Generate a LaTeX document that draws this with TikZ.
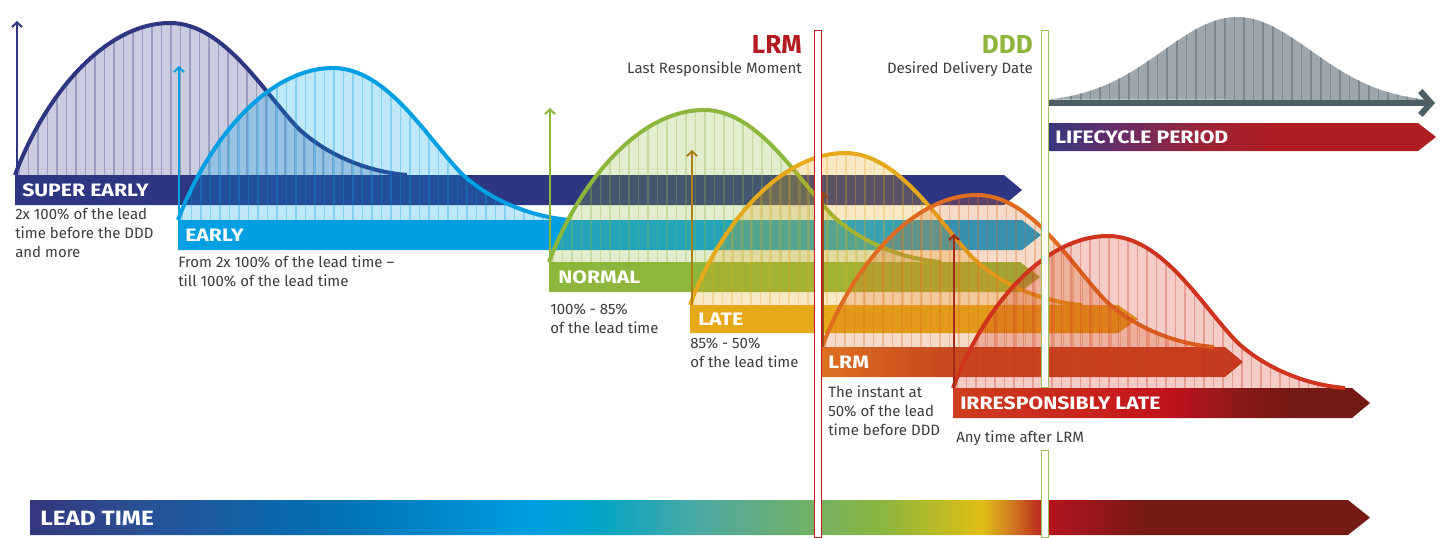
\documentclass[tikz,border=0pt]{standalone}
\usepackage{fontspec}
\setmainfont{Fira Sans}
\newfontfamily\labelfont{Fira Sans}[FakeStretch=1.18]
\usetikzlibrary{arrows.meta}

\definecolor{navyc}{HTML}{2E3581}
\definecolor{bluec}{HTML}{009FE3}
\definecolor{greenc}{HTML}{8CB63C}
\definecolor{yellowc}{HTML}{E5A919}
\definecolor{orangec}{HTML}{DE6B1F}
\definecolor{redc}{HTML}{CF331E}
\definecolor{lrmred}{HTML}{B31B1F}
\definecolor{textgray}{HTML}{3C3C3B}
\definecolor{slate}{HTML}{4E5E66}
\definecolor{bellgray}{HTML}{9EA6AE}
\definecolor{bellstripe}{HTML}{7E8891}
\definecolor{lrmline}{HTML}{C8141E}
\definecolor{dddline}{HTML}{9CC45A}

% lead time colours, left to right
\definecolor{lt1}{HTML}{33377F}
\definecolor{lt2}{HTML}{2B4F94}
\definecolor{lt3}{HTML}{0072B5}
\definecolor{lt4}{HTML}{009FE3}
\definecolor{lt5}{HTML}{00A5C9}
\definecolor{lt6}{HTML}{4DA9A3}
\definecolor{lt7}{HTML}{8AB63E}
\definecolor{lt8}{HTML}{E0BE14}
\definecolor{lt9}{HTML}{D48A20}
\definecolor{lt10}{HTML}{B5141E}
\definecolor{lt11}{HTML}{761A14}
\definecolor{lc1}{HTML}{37387F}
\definecolor{lc2}{HTML}{6A2C66}
\definecolor{lc3}{HTML}{9A2538}
\definecolor{lc4}{HTML}{B01E23}
\definecolor{lr1}{HTML}{DC7020}
\definecolor{lr2}{HTML}{C84A1E}
\definecolor{lr3}{HTML}{C43F1E}
\definecolor{ir1}{HTML}{CD3F1E}
\definecolor{ir2}{HTML}{C8201C}
\definecolor{ir3}{HTML}{C0121C}
\definecolor{ir4}{HTML}{8A1A16}
\definecolor{ir5}{HTML}{741A14}

\pgfdeclarehorizontalshading{leadtime}{100bp}{color(0bp)=(lt1); color(25bp)=(lt1);
  color(28.9bp)=(lt2); color(36.5bp)=(lt3); color(43.9bp)=(lt4); color(46bp)=(lt5);
  color(50bp)=(lt6); color(56.8bp)=(lt7); color(60.5bp)=(lt8); color(61.4bp)=(lt9);
  color(63bp)=(lt10); color(66.6bp)=(lt11); color(100bp)=(lt11)}
\pgfdeclarehorizontalshading{lifecycle}{100bp}{color(0bp)=(lc1); color(25bp)=(lc1);
  color(34.3bp)=(lc2); color(44.6bp)=(lc3); color(53.6bp)=(lc4); color(100bp)=(lc4)}
\pgfdeclarehorizontalshading{lrmbar}{100bp}{color(0bp)=(lr1); color(25bp)=(lr1);
  color(39bp)=(lr2); color(75bp)=(lr3); color(100bp)=(lr3)}
\pgfdeclarehorizontalshading{irrbar}{100bp}{color(0bp)=(ir1); color(25bp)=(ir1);
  color(42.6bp)=(ir2); color(51bp)=(ir3); color(59.4bp)=(ir4); color(65.4bp)=(ir5);
  color(100bp)=(ir5)}

% one distribution hump, origin at its left foot
\newcommand{\humppath}{(0,0) .. controls (30,-80) and (90,-152) .. (155,-152)
  .. controls (210,-152) and (250,-80) .. (285,-45)
  .. controls (315,-18) and (355,-3) .. (392,0)}

\tikzset{
  bartext/.style={anchor=west, inner sep=0pt, text=white,
    font=\labelfont\bfseries\fontsize{13.5}{14}\selectfont},
  note/.style={anchor=north west, inner sep=0pt, align=left, text=textgray,
    font=\fontsize{11.25}{14.25}\selectfont},
  subhead/.style={anchor=base east, inner sep=0pt, text=textgray,
    font=\fontsize{11.25}{14.25}\selectfont},
  heading/.style={anchor=base east, inner sep=0pt, font=\bfseries\fontsize{19.5}{20}\selectfont},
  rise/.style={line width=1.5pt, -{Straight Barb[length=3.5pt,width=7.5pt]}},
  marker/.style={line width=0.6pt, fill=white},
  pics/hump/.style={code={
    \begin{scope}
      \clip \humppath -- cycle;
      \fill[#1, fill opacity=.25] (-5,5) rectangle (400,-160);
      \foreach \s in {4,13.5,...,400}
        \draw[#1, draw opacity=.3, line width=1.3pt] (\s,0) -- (\s,-160);
    \end{scope}
    \draw[#1, line width=3pt] \humppath;
  }}
}

\begin{document}
\begin{tikzpicture}[x=0.75pt, y=-0.75pt]
  \useasboundingbox (0,0) rectangle (1447,537);

  % super early
  \fill[navyc] (15,175) -- (1004,175) -- (1022,190) -- (1004,205) -- (15,205) -- cycle;
  \node[bartext] (superearly) at (22,190.5) {SUPER EARLY};
  \node[note] (superearly note) at (15,208) {2x 100\% of the lead\\time before the DDD\\and more};
  \pic at (15,175) {hump=navyc};
  \coordinate (superearly foot) at (17,175);
  \coordinate (superearly top) at (17,21);
  \draw[rise, navyc] (superearly foot) -- (superearly top);

  % early
  \fill[bluec] (178,220) -- (1022,220) -- (1041,235) -- (1022,250) -- (178,250) -- cycle;
  \node[bartext] (early) at (185,235.5) {EARLY};
  \node[note] (early note) at (178,256) {From 2x 100\% of the lead time –\\till 100\% of the lead time};
  \pic at (178,220) {hump=bluec};
  \coordinate (early foot) at (179,220);
  \coordinate (early top) at (179,66);
  \draw[rise, bluec] (early foot) -- (early top);

  % normal
  \fill[greenc] (549,262) -- (1020,262) -- (1040,277) -- (1020,292) -- (549,292) -- cycle;
  \node[bartext] (normal) at (558,277.5) {NORMAL};
  \node[note] (normal note) at (550,304) {100\% - 85\%\\of the lead time};
  \pic at (549,262) {hump=greenc};
  \coordinate (normal foot) at (550,262);
  \coordinate (normal top) at (550,108);
  \draw[rise, greenc] (normal foot) -- (normal top);

  % late
  \fill[yellowc] (690,305) -- (1118,305) -- (1138,319) -- (1118,333) -- (690,333) -- cycle;
  \node[bartext] (late) at (698,319.5) {LATE};
  \node[note] (late note) at (690,338) {85\% - 50\%\\of the lead time};
  \pic at (690,305) {hump=yellowc};
  \coordinate (late foot) at (692,305);
  \coordinate (late top) at (692,150);
  \draw[rise, yellowc!75!black] (late foot) -- (late top);

  % last responsible moment
  \shade[shading=lrmbar] (822,347) -- (1225,347) -- (1243,362) -- (1225,377) -- (822,377) -- cycle;
  \node[bartext] (lrm) at (828,362.5) {LRM};
  \node[note] (lrm note) at (828,386) {The instant at\\50\% of the lead\\time before DDD};
  \pic at (822,347) {hump=orangec};
  \coordinate (lrm foot) at (823,347);
  \coordinate (lrm top) at (823,192);
  \draw[rise, orangec!70!black] (lrm foot) -- (lrm top);

  % irresponsibly late
  \shade[shading=irrbar] (953,388) -- (1352,388) -- (1370,403) -- (1352,418) -- (953,418) -- cycle;
  \node[bartext] (irr) at (960,403.5) {IRRESPONSIBLY LATE};
  \node[note] (irr note) at (956,431) {Any time after LRM};
  \pic at (953,388) {hump=redc};
  \coordinate (irr foot) at (954,388);
  \coordinate (irr top) at (954,234);
  \draw[rise, redc!80!black] (irr foot) -- (irr top);

  % lifecycle
  \begin{scope}
    \clip plot[domain=1048:1428, samples=90] (\x,{103-86*exp(-((\x-1237)/105)^2)}) -- cycle;
    \fill[bellgray] (1040,0) rectangle (1440,110);
    \foreach \s in {1052,1061.6,...,1430}
      \draw[bellstripe, line width=1.2pt] (\s,110) -- (\s,0);
  \end{scope}
  \coordinate (life start) at (1048,103);
  \coordinate (life end) at (1435,103);
  \draw[slate, line width=4.5pt, -{Straight Barb[length=8pt,width=18pt]}] (life start) -- (life end);
  \shade[shading=lifecycle] (1048,123) -- (1418,123) -- (1436,137) -- (1418,151) -- (1048,151) -- cycle;
  \node[bartext] (life) at (1055,137.5) {LIFECYCLE PERIOD};

  % lead time
  \shade[shading=leadtime] (30,500) -- (1348,500) -- (1370,517.5) -- (1348,535) -- (30,535) -- cycle;
  \node[bartext, font=\labelfont\bfseries\fontsize{15.5}{16}\selectfont] (lead) at (40,518) {LEAD TIME};

  % milestones
  \node[heading, text=lrmred] (lrm head) at (802,53) {LRM};
  \node[subhead] (lrm sub) at (802,73) {Last Responsible Moment};
  \node[heading, text=greenc] (ddd head) at (1033,53) {DDD};
  \node[subhead] (ddd sub) at (1033,73) {Desired Delivery Date};
  \draw[marker, draw=lrmline] (814,30) rectangle (821,537);
  \draw[marker, draw=dddline] (1041,30) rectangle (1048,387);
  \draw[marker, draw=dddline] (1041,450) rectangle (1048,537);
\end{tikzpicture}
\end{document}
